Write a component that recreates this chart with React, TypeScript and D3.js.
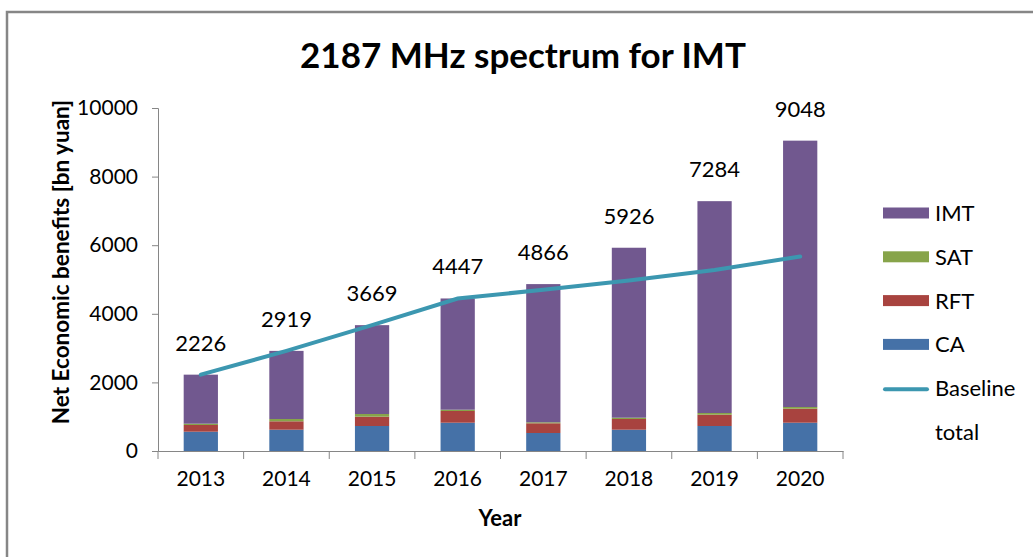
import React, { useRef, useEffect } from "react";
import * as d3 from "d3";

const years = ["2013", "2014", "2015", "2016", "2017", "2018", "2019", "2020"];
const ca = [563, 621, 729, 825, 525, 621, 729, 825];
const rft = [195, 245, 271, 341, 283, 312, 329, 408];
const sat = [38, 67, 79, 38, 29, 38, 50, 50];
const imt = [1430, 1986, 2590, 3243, 4029, 4955, 6176, 7765];
const totals = [2226, 2919, 3669, 4447, 4866, 5926, 7284, 9048];
const baseline = [2226, 2919, 3669, 4447, 4700, 4970, 5280, 5670];
const yTicks = [0, 2000, 4000, 6000, 8000, 10000];

const keys = ["CA", "RFT", "SAT", "IMT"];
const colors: Record<string, string> = {
  CA: "#4571A7",
  RFT: "#A8433F",
  SAT: "#87A44A",
  IMT: "#71588F",
};
const lineColor = "#3C97B0";
const axisColor = "#868686";
const font = "Lato, 'Open Sans', sans-serif";

const App = () => {
  const container = useRef<SVGSVGElement | null>(null);

  const width = 1033;
  const height = 557;

  useEffect(() => {
    const svg = d3.select(container.current);
    svg.selectAll("*").remove();

    // outer chart frame
    svg
      .append("rect")
      .attr("x", 7)
      .attr("y", 12)
      .attr("width", 1100)
      .attr("height", 600)
      .attr("fill", "#fff")
      .attr("stroke", axisColor)
      .attr("stroke-width", 2.5);

    const data = years.map((y, i) => ({
      year: y,
      CA: ca[i],
      RFT: rft[i],
      SAT: sat[i],
      IMT: imt[i],
    }));

    const xScale = d3.scaleBand().domain(years).range([158, 843]).padding(0);
    const yScale = d3.scaleLinear().domain([0, 10000]).range([451, 108]);
    const barW = xScale.bandwidth() * 0.4;
    const cx = (y: string) => (xScale(y) as number) + xScale.bandwidth() / 2;

    // title
    svg
      .append("text")
      .attr("x", 523)
      .attr("y", 68)
      .attr("text-anchor", "middle")
      .style("font-family", font)
      .style("font-weight", "bold")
      .style("font-size", "35px")
      .style("fill", "#000")
      .text("2187 MHz spectrum for IMT");

    // stacked bars
    const stacked = d3.stack<any>().keys(keys)(data);
    svg
      .selectAll(".layer")
      .data(stacked)
      .enter()
      .append("g")
      .attr("fill", (d) => colors[d.key])
      .selectAll("rect")
      .data((d) => d)
      .enter()
      .append("rect")
      .attr("x", (d: any) => cx(d.data.year) - barW / 2)
      .attr("y", (d) => yScale(d[1]))
      .attr("width", barW)
      .attr("height", (d) => yScale(d[0]) - yScale(d[1]));

    // total labels
    svg
      .selectAll(".total")
      .data(totals)
      .enter()
      .append("text")
      .attr("x", (d, i) => cx(years[i]))
      .attr("y", (d) => yScale(d) - 24)
      .attr("text-anchor", "middle")
      .style("font-family", font)
      .style("font-size", "22px")
      .style("fill", "#000")
      .text((d) => d);

    // baseline line
    const line = d3
      .line<number>()
      .x((d, i) => cx(years[i]))
      .y((d) => yScale(d));
    svg
      .append("path")
      .datum(baseline)
      .attr("d", line)
      .attr("fill", "none")
      .attr("stroke", lineColor)
      .attr("stroke-width", 4)
      .attr("stroke-linecap", "round");

    // y axis
    const yAxis = svg
      .append("g")
      .attr("transform", "translate(158,0)")
      .call(
        d3
          .axisLeft(yScale)
          .tickValues(yTicks)
          .tickFormat(d3.format("d"))
          .tickSize(6)
          .tickPadding(14)
      );
    yAxis.select(".domain").attr("stroke", axisColor);
    yAxis.selectAll("line").attr("stroke", axisColor);
    yAxis
      .selectAll("text")
      .style("font-family", font)
      .style("font-size", "21px")
      .style("fill", "#000");

    // x axis
    const xAxis = svg
      .append("g")
      .attr("transform", "translate(0,451)")
      .call(d3.axisBottom(xScale).tickSize(0).tickPadding(20));
    xAxis.select(".domain").attr("stroke", axisColor);
    xAxis
      .selectAll("text")
      .style("font-family", font)
      .style("font-size", "21px")
      .style("fill", "#000");
    xAxis
      .selectAll(".boundary")
      .data(d3.range(years.length + 1))
      .enter()
      .append("line")
      .attr("x1", (i) => 158 + i * xScale.bandwidth())
      .attr("x2", (i) => 158 + i * xScale.bandwidth())
      .attr("y1", 0)
      .attr("y2", 8)
      .attr("stroke", axisColor);

    // axis titles
    svg
      .append("text")
      .attr("transform", "translate(69,262) rotate(-90)")
      .attr("text-anchor", "middle")
      .style("font-family", font)
      .style("font-weight", "bold")
      .style("font-size", "22.5px")
      .style("fill", "#000")
      .text("Net Economic benefits [bn yuan]");

    svg
      .append("text")
      .attr("x", 500)
      .attr("y", 526)
      .attr("text-anchor", "middle")
      .style("font-family", font)
      .style("font-weight", "bold")
      .style("font-size", "22px")
      .style("fill", "#000")
      .text("Year");

    // legend
    const legendKeys = ["IMT", "SAT", "RFT", "CA"];
    const legend = svg.append("g").attr("transform", "translate(883,213)");
    legend
      .selectAll("rect")
      .data(legendKeys)
      .enter()
      .append("rect")
      .attr("x", 0)
      .attr("y", (d, i) => i * 43.8 - 5.5)
      .attr("width", 46)
      .attr("height", 11)
      .attr("fill", (d) => colors[d]);
    legend
      .append("line")
      .attr("x1", 2)
      .attr("x2", 44)
      .attr("y1", 4 * 43.8 + 1)
      .attr("y2", 4 * 43.8 + 1)
      .attr("stroke", lineColor)
      .attr("stroke-width", 4)
      .attr("stroke-linecap", "round");
    legend
      .selectAll("text")
      .data([...legendKeys, "Baseline", "total"])
      .enter()
      .append("text")
      .attr("x", 52)
      .attr("y", (d, i) => i * 43.8 + 8)
      .style("font-family", font)
      .style("font-size", "22px")
      .style("fill", "#000")
      .text((d) => d);
  }, []);

  return (
    <svg
      ref={container}
      width={width}
      height={height}
      style={{ position: "absolute", left: 0, top: 0, background: "#fff" }}
    ></svg>
  );
};

export default App;
